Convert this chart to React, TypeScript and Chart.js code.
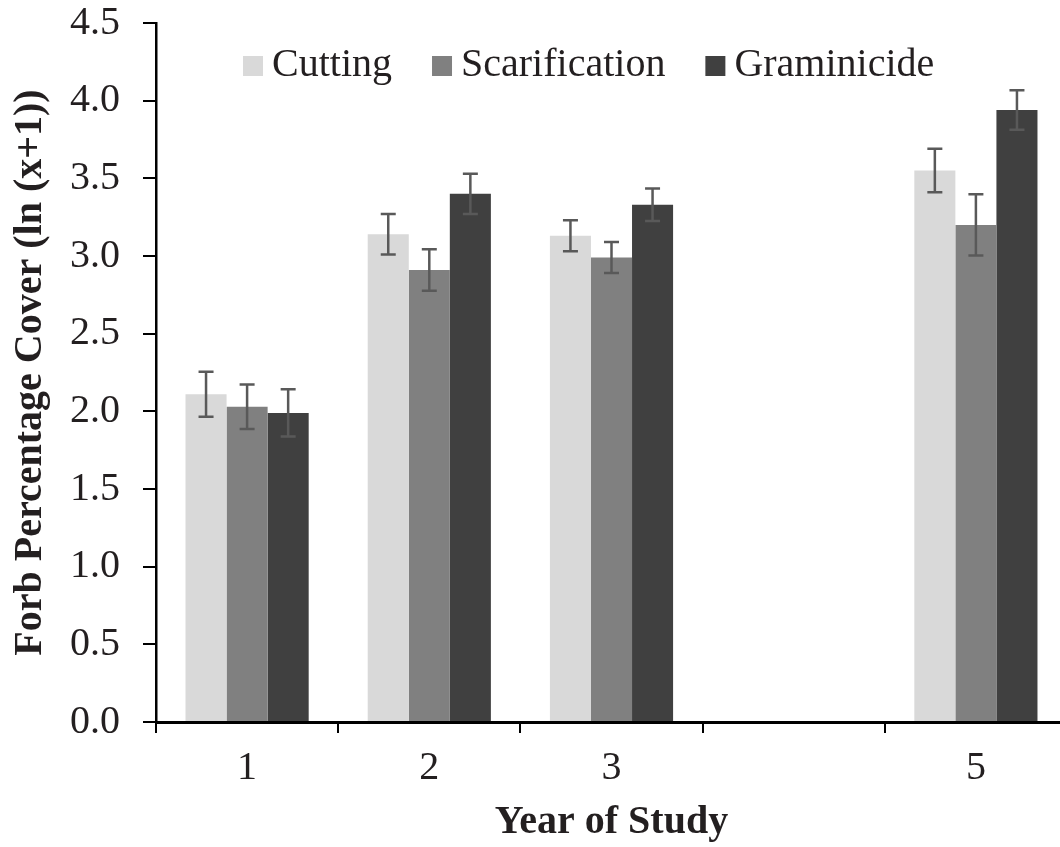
import React, { useEffect, useRef } from "react";
import { Chart, registerables } from "chart.js";

Chart.register(...registerables);

const categories = ["1", "2", "3", "", "5"];
const seriesNames = ["Cutting", "Scarification", "Graminicide"];
const cutting = [2.11, 3.14, 3.13, null, 3.55];
const scarification = [2.03, 2.91, 2.99, null, 3.2];
const graminicide = [1.99, 3.4, 3.33, null, 3.94];
const cuttingErr = [0.145, 0.13, 0.1, null, 0.14];
const scarificationErr = [0.143, 0.134, 0.1, null, 0.197];
const graminicideErr = [0.152, 0.13, 0.105, null, 0.127];
const yTicks = [0, 0.5, 1, 1.5, 2, 2.5, 3, 3.5, 4, 4.5];

const colors = ["#d9d9d9", "#808080", "#404040"];
const FONT = '"Liberation Serif", "Times New Roman", serif';
const TEXT = "#231f20";

const errorBarPlugin = {
  id: "errorBars",
  afterDatasetsDraw(chart: any) {
    const ctx = chart.ctx;
    const y = chart.scales.y;
    chart.data.datasets.forEach((ds: any, di: number) => {
      const meta = chart.getDatasetMeta(di);
      meta.data.forEach((el: any, i: number) => {
        const v = ds.data[i];
        const e = ds.errors[i];
        if (v == null || e == null) return;
        const top = y.getPixelForValue(v + e);
        const bot = y.getPixelForValue(v - e);
        ctx.save();
        ctx.strokeStyle = "#595959";
        ctx.lineWidth = 2.5;
        ctx.beginPath();
        ctx.moveTo(el.x, top);
        ctx.lineTo(el.x, bot);
        ctx.moveTo(el.x - 7.5, top);
        ctx.lineTo(el.x + 7.5, top);
        ctx.moveTo(el.x - 7.5, bot);
        ctx.lineTo(el.x + 7.5, bot);
        ctx.stroke();
        ctx.restore();
      });
    });
  },
};

const legendPlugin = {
  id: "customLegend",
  afterDraw(chart: any) {
    const ctx = chart.ctx;
    ctx.save();
    ctx.font = `40px ${FONT}`;
    ctx.textBaseline = "alphabetic";
    ctx.textAlign = "left";
    let x = 243;
    chart.data.datasets.forEach((ds: any) => {
      ctx.fillStyle = ds.backgroundColor;
      ctx.fillRect(x, 56, 20, 20);
      x += 29;
      ctx.fillStyle = TEXT;
      ctx.fillText(ds.label, x, 76);
      x += ctx.measureText(ds.label).width + 40;
    });
    ctx.restore();
  },
};

export default function App() {
  const ref = useRef<HTMLCanvasElement>(null);
  useEffect(() => {
    document.body.style.margin = "0";
    document.body.style.overflow = "hidden";
    const canvas = ref.current!;
    const values = [cutting, scarification, graminicide];
    const errs = [cuttingErr, scarificationErr, graminicideErr];
    const chart = new Chart(canvas, {
      type: "bar",
      data: {
        labels: categories,
        datasets: seriesNames.map((name, i) => ({
          label: name,
          data: values[i],
          errors: errs[i],
          backgroundColor: colors[i],
          borderWidth: 0,
          barPercentage: 1,
          categoryPercentage: 0.676,
        })) as any,
      },
      options: {
        responsive: false,
        animation: false,
        devicePixelRatio: 1,
        layout: { padding: { top: 0, right: 0, bottom: 0, left: 0 } },
        plugins: {
          legend: { display: false },
          tooltip: { enabled: false },
        },
        scales: {
          x: {
            grid: {
              display: true,
              offset: true,
              drawOnChartArea: false,
              drawTicks: true,
              tickLength: 11,
              color: "#000",
              lineWidth: 2,
            },
            border: { display: true, color: "#000", width: 3 },
            ticks: {
              color: TEXT,
              font: { family: FONT, size: 40 },
              padding: 11,
              maxRotation: 0,
              autoSkip: false,
            },
            title: {
              display: true,
              text: "Year of Study",
              color: TEXT,
              font: { family: FONT, size: 40, weight: "bold" },
              padding: { top: 0, bottom: 0 },
            },
            afterFit(scale: any) {
              scale.height = 125;
              scale.paddingLeft = 0;
              scale.paddingRight = 0;
            },
          },
          y: {
            min: 0,
            max: 4.5,
            afterBuildTicks(scale: any) {
              scale.ticks = yTicks.map((v) => ({ value: v }));
            },
            grid: {
              display: true,
              drawOnChartArea: false,
              drawTicks: true,
              tickLength: 13,
              color: "#000",
              lineWidth: 2,
            },
            border: { display: true, color: "#000", width: 2.5 },
            ticks: {
              color: TEXT,
              font: { family: FONT, size: 40 },
              padding: 23,
              callback: (v: any) => Number(v).toFixed(1),
            },
            title: {
              display: true,
              text: "Forb Percentage Cover (ln (x+1))",
              color: TEXT,
              font: { family: FONT, size: 40, weight: "bold" },
              padding: { top: 7, bottom: 0 },
            },
            afterFit(scale: any) {
              scale.width = 156;
              scale.paddingTop = 23;
              scale.paddingBottom = 0;
            },
          },
        },
      } as any,
      plugins: [errorBarPlugin, legendPlugin],
    });
    return () => chart.destroy();
  }, []);
  return (
    <canvas
      ref={ref}
      width={1067}
      height={847}
      style={{ display: "block", width: "1067px", height: "847px" }}
    />
  );
}
